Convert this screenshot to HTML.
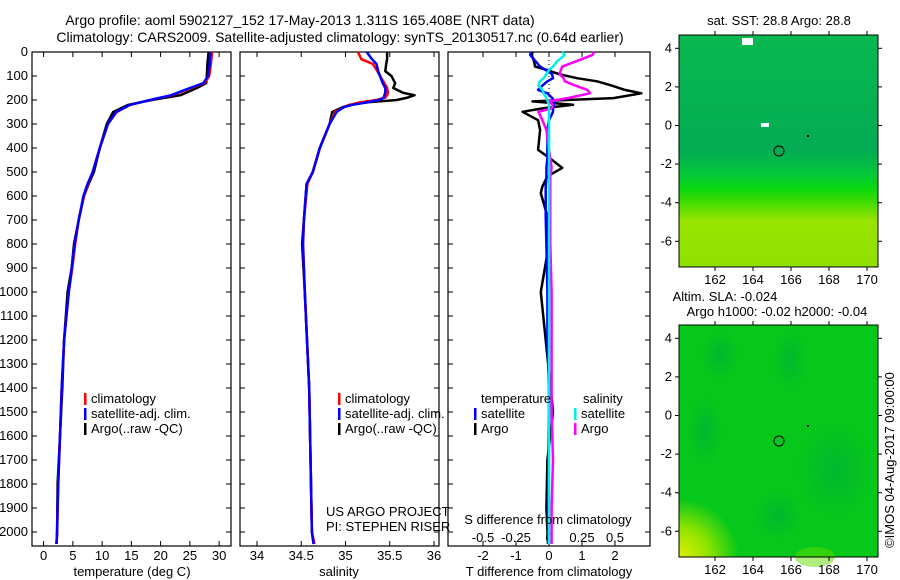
<!DOCTYPE html>
<html><head><meta charset="utf-8"><style>
body{margin:0;background:#fff;}
svg{display:block;font-family:"Liberation Sans",sans-serif;font-size:13px;}
</style></head><body>
<svg id="c" width="900" height="580" viewBox="0 0 900 580" xmlns="http://www.w3.org/2000/svg">
<text x="300" y="25" text-anchor="middle" font-size="14">Argo profile: aoml 5902127_152 17-May-2013 1.311S 165.408E (NRT data)</text>
<text x="340" y="42" text-anchor="middle" font-size="14">Climatology: CARS2009. Satellite-adjusted climatology: synTS_20130517.nc (0.64d earlier)</text>
<defs>
<linearGradient id="sstg" x1="0" y1="0" x2="0" y2="1">
<stop offset="0" stop-color="#08b850"/><stop offset="0.5" stop-color="#04ac54"/><stop offset="0.6" stop-color="#04c83a"/><stop offset="0.66" stop-color="#08d810"/><stop offset="0.72" stop-color="#40dc00"/><stop offset="0.8" stop-color="#98e400"/><stop offset="1" stop-color="#90e000"/></linearGradient>
<radialGradient id="dk" cx="0.5" cy="0.5" r="0.5"><stop offset="0" stop-color="#00b038" stop-opacity="0.7"/><stop offset="1" stop-color="#00b038" stop-opacity="0"/></radialGradient>
<radialGradient id="yl" cx="0" cy="1" r="0.6"><stop offset="0" stop-color="#e0f000"/><stop offset="0.5" stop-color="#90e400"/><stop offset="1" stop-color="#90e400" stop-opacity="0"/></radialGradient>
</defs>
<g id="panels"></g>
<g>
<text x="779" y="25" text-anchor="middle">sat. SST: 28.8 Argo: 28.8</text>
<rect x="679" y="35" width="199" height="232" fill="url(#sstg)"/>
<rect x="742" y="38" width="11" height="7" fill="#fff"/><rect x="761" y="123" width="8" height="4" fill="#fff"/>
<circle cx="779" cy="151" r="5" fill="none" stroke="#000"/>
<rect x="807" y="135" width="2" height="2" fill="#000"/>
<rect x="679" y="35" width="199" height="232" fill="none" stroke="#000"/>
</g>
<g>
<text x="725" y="301" text-anchor="middle">Altim. SLA: -0.024</text>
<text x="777" y="316" text-anchor="middle">Argo h1000: -0.02 h2000: -0.04</text>
<rect x="679" y="325" width="199" height="232" fill="#06c81a"/>
<ellipse cx="720" cy="355" rx="20" ry="25" fill="url(#dk)"/>
<ellipse cx="790" cy="360" rx="18" ry="30" fill="url(#dk)"/>
<ellipse cx="835" cy="470" rx="40" ry="50" fill="url(#dk)"/>
<ellipse cx="705" cy="430" rx="18" ry="35" fill="url(#dk)"/>
<ellipse cx="778" cy="515" rx="25" ry="25" fill="url(#dk)"/>
<rect x="679" y="460" width="100" height="97" fill="url(#yl)"/>
<ellipse cx="815" cy="557" rx="20" ry="10" fill="#60dc00" opacity="0.5"/>
<circle cx="779" cy="441" r="5" fill="none" stroke="#000"/>
<rect x="807" y="425" width="2" height="2" fill="#000"/>
<rect x="679" y="325" width="199" height="232" fill="none" stroke="#000"/>
</g>
<g id="maxes"></g>
<text transform="translate(894,460) rotate(-90)" text-anchor="middle">©IMOS 04-Aug-2017 09:00:00</text>
</svg>
<script>
// ---- data ----
const depthT = [0,50,100,130,150,180,200,220,250,300,400,500,550,600,700,800,900,1000,1200,1400,1600,1800,2000,2050];
const tempClim = [28.8,28.6,28.3,27.5,25.2,22.0,18.2,14.8,12.5,11.0,9.6,8.4,7.6,6.9,6.0,5.4,4.9,4.3,3.5,3.1,2.8,2.5,2.3,2.2];
const tempSat  = [28.5,28.4,28.1,27.3,25.0,21.8,18.2,14.8,12.4,11.0,9.6,8.4,7.5,6.8,6.0,5.3,4.8,4.3,3.5,3.1,2.8,2.5,2.3,2.2];
const tempArgo = [28.2,28.0,27.9,27.8,26.2,23.4,18.5,14.5,11.9,10.8,9.6,8.6,7.7,6.9,6.0,5.2,4.8,4.1,3.5,3.2,2.8,2.4,2.3,2.2];
const depthS = [0,30,50,80,100,130,150,170,180,190,200,210,220,230,250,300,400,500,550,700,800,1000,1400,1600,2000,2050];
const salClim = [35.14,35.18,35.31,35.36,35.39,35.44,35.47,35.48,35.47,35.45,35.35,35.16,35.05,34.98,34.88,34.82,34.71,34.63,34.57,34.53,34.52,34.54,34.59,34.6,34.62,34.65];
const salSat  = [35.24,35.3,35.35,35.37,35.39,35.42,35.45,35.45,35.44,35.43,35.38,35.24,35.08,34.98,34.9,34.82,34.71,34.63,34.56,34.53,34.52,34.54,34.59,34.6,34.62,34.64];
const salArgo = [35.47,35.47,35.46,35.45,35.52,35.56,35.54,35.65,35.78,35.7,35.58,35.24,35.05,34.97,34.85,34.82,34.71,34.63,34.56,34.53,34.51,34.54,34.59,34.6,34.62,34.64];
const depthD = [0,12,40,61,75,92,109,122,140,158,172,192,206,220,235,249,284,325,408,443,483,518,560,588,685,800,1000,1200,1400,1500,1700,1900,2050];
const dTArgo = [-0.5,-0.52,-0.45,-0.42,-0.06,0.3,0.85,1.45,1.9,2.3,2.8,1.95,-0.5,0.73,-0.2,-0.8,-0.33,-0.27,-0.33,0.03,0.4,-0.05,-0.2,-0.25,-0.05,0,-0.25,-0.1,0.05,0.12,-0.05,-0.08,-0.03];
const dTSat  = [-0.55,-0.57,-0.4,-0.27,-0.1,0.09,0.12,-0.05,-0.2,-0.33,-0.05,0.1,0.18,0.15,0.12,0.12,0.0,-0.05,-0.05,-0.05,-0.08,-0.08,-0.1,-0.1,-0.1,-0.08,-0.05,-0.05,0.0,0.0,-0.02,-0.03,-0.02];
const dSArgo = [0.34,0.33,0.2,0.1,0.09,0.08,0.11,0.12,0.2,0.29,0.31,0.14,0.0,0.03,0.02,-0.08,-0.05,-0.02,0.0,0.01,0.02,0.01,0.01,0.01,0.01,0.01,0.02,0.02,0.02,0.02,0.03,0.02,0.02];
const dSSat  = [0.1,0.12,0.06,0.03,0.0,-0.02,-0.04,-0.07,-0.08,-0.05,-0.04,-0.02,-0.01,0.0,0.0,0.0,0.0,0.0,0.0,0.0,0.0,0.0,0.0,0.0,0.0,0.0,0.0,0.0,0.0,0.0,0.0,0.0,0.0];
const depthTicks = [0,100,200,300,400,500,600,700,800,900,1000,1100,1200,1300,1400,1500,1600,1700,1800,1900,2000];
const tempTicks = [0,5,10,15,20,25,30];
const salTicks = [34,34.5,35,35.5,36];
const salTickLabels = ['34','34.5','35','35.5','36'];
const dTTicks = [-2,-1,0,1,2];
const dSTicks = [-0.5,-0.25,0,0.25,0.5];
const dSTickLabels = ['-0.5','-0.25','0','0.25','0.5'];
const lonTicks = [162,164,166,168,170];
const latTicks = [4,2,0,-2,-4,-6];
// ---- scales ----
const NS='http://www.w3.org/2000/svg';
const yD = d => 52 + d*0.24;
const xT = t => 43.6 + t*5.85;
const xS = s => 257 + (s-34)*88.5;
const xDT = v => 549 + v*33;
const xDS = v => 549 + v*132;
const xLon = l => 715 + (l-162)*19;
const yLat = l => 48.3 + (4-l)*19.3;
const P = document.getElementById('panels');
function mk(tag, attrs, parent){const e=document.createElementNS(NS,tag);for(const k in attrs)e.setAttribute(k,attrs[k]);(parent||P).appendChild(e);return e;}
function txt(x,y,s,anchor,parent){const e=mk('text',{x:x,y:y,'text-anchor':anchor||'start'},parent);e.textContent=s;return e;}
function line(xs,ds,fx,color,name){
  const pts=xs.map((v,i)=>fx(v).toFixed(1)+','+yD(ds[i]).toFixed(1)).join(' ');
  const e=mk('polyline',{points:pts,fill:'none',stroke:color,'stroke-width':2.5,'stroke-linejoin':'round'});
  
  
}
const boxes=[[32,231],[240,439],[448,650]];
boxes.forEach((b,i)=>{
  const r=mk('rect',{x:b[0],y:52,width:b[1]-b[0],height:494,fill:'none',stroke:'#000','stroke-width':1.2});
  
  
  depthTicks.forEach(d=>{
    mk('line',{x1:b[0],x2:b[0]+5,y1:yD(d),y2:yD(d),stroke:'#000'});
    mk('line',{x1:b[1],x2:b[1]-5,y1:yD(d),y2:yD(d),stroke:'#000'});
  });
});
depthTicks.forEach(d=>{
  const t=txt(28,yD(d)+4,String(d),'end');
  
  
});
function xticks(vals,fx,labels,y){
  vals.forEach((v,i)=>{
    mk('line',{x1:fx(v),x2:fx(v),y1:546,y2:541,stroke:'#000'});
    mk('line',{x1:fx(v),x2:fx(v),y1:52,y2:57,stroke:'#000'});
    const t=txt(fx(v),y,labels[i],'middle');
    
    
  });
}
xticks(tempTicks,xT,tempTicks.map(String),560);
xticks(salTicks,xS,salTickLabels,560);
xticks(dTTicks,xDT,dTTicks.map(String),560);
dSTicks.forEach((v,i)=>{const t=txt(xDS(v),542,dSTickLabels[i],'middle');
  
  });
mk('line',{x1:549,x2:549,y1:52,y2:546,stroke:'#000','stroke-dasharray':'1,3'});
line(tempArgo,depthT,xT,'#000','temp-argo-line');
line(tempClim,depthT,xT,'#f00','temp-clim-line');
line(tempSat,depthT,xT,'#00f','temp-sat-line');
line(salArgo,depthS,xS,'#000','sal-argo-line');
line(salClim,depthS,xS,'#f00','sal-clim-line');
line(salSat,depthS,xS,'#00f','sal-sat-line');
line(dTArgo,depthD,xDT,'#000','dT-argo-line');
line(dTSat,depthD,xDT,'#00f','dT-sat-line');
line(dSArgo,depthD,xDS,'#f0f','dS-argo-line');
line(dSSat,depthD,xDS,'#0ee','dS-sat-line');
[[132,'temperature (deg C)'],[339,'salinity'],[549,'T difference from climatology']].forEach(a=>{
  const t=txt(a[0],576,a[1],'middle');
  
  });
const st=txt(548,524,'S difference from climatology','middle');


txt(326,516,'US ARGO PROJECT');txt(326,531,'PI: STEPHEN RISER');
function leg(x,y,color,label){mk('rect',{x:x,y:y-10,width:2.5,height:12,fill:color});
  const t=txt(x+7,y,label);
  
  }
[[84,'#f00','climatology'],[84,'#00f','satellite-adj. clim.'],[84,'#000','Argo(..raw -QC)']].forEach((l,i)=>leg(l[0],403+i*15,l[1],l[2]));
[[338,'#f00','climatology'],[338,'#00f','satellite-adj. clim.'],[338,'#000','Argo(..raw -QC)']].forEach((l,i)=>leg(l[0],403+i*15,l[1],l[2]));
txt(481,403,'temperature');txt(583,403,'salinity');
leg(474,418,'#00f','satellite');leg(474,433,'#000','Argo');
leg(574,418,'#0ee','satellite');leg(574,433,'#f0f','Argo');
const M=document.getElementById('maxes');
[[35,267],[325,557]].forEach((m,mi)=>{
  lonTicks.forEach(l=>{
    mk('line',{x1:xLon(l),x2:xLon(l),y1:m[0],y2:m[0]-4,stroke:'#000'},M);
    mk('line',{x1:xLon(l),x2:xLon(l),y1:m[1],y2:m[1]+4,stroke:'#000'},M);
    const t=txt(xLon(l),m[1]+17,String(l),'middle',M);
    
    
  });
  latTicks.forEach(l=>{
    const y=yLat(l)+(m[0]-35);
    mk('line',{x1:679,x2:675,y1:y,y2:y,stroke:'#000'},M);
    mk('line',{x1:878,x2:882,y1:y,y2:y,stroke:'#000'},M);
    const t=txt(672,y+4,String(l),'end',M);
    
    
  });
});
</script>
</body></html>
